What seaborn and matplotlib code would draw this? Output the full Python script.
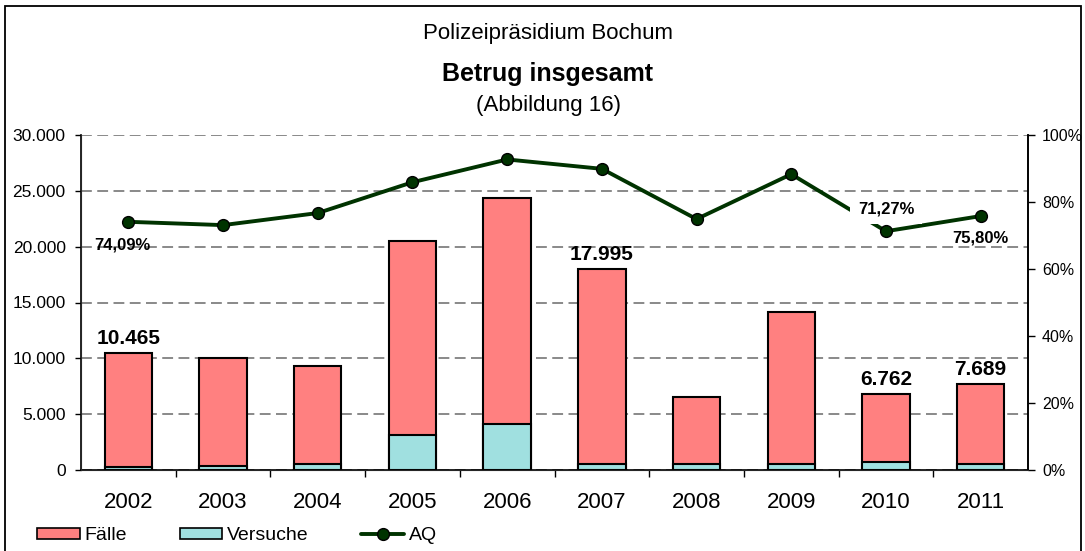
import matplotlib.pyplot as plt
import numpy as np
import seaborn as sns
from matplotlib.lines import Line2D
from matplotlib.patches import Patch, Rectangle
from matplotlib.ticker import FixedLocator, FuncFormatter

# Werte
years = ["2002", "2003", "2004", "2005", "2006", "2007", "2008", "2009", "2010", "2011"]
faelle = [10465, 10000, 9313, 20507, 24328, 17995, 6567, 14119, 6762, 7689]
versuche = [300, 358, 537, 3134, 4149, 507, 507, 507, 716, 507]
aq = [74.09, 73.1, 76.7, 85.9, 92.7, 89.9, 74.9, 88.3, 71.27, 75.80]

labelled_bars = [0, 5, 8, 9]
labelled_aq = {0: (-4, -17), 8: (0, 16), 9: (0, -16)}

RED = "#FF8080"
CYAN = "#A0E0E0"
GREEN = "#003300"

sns.set_style("ticks")
plt.rcParams["font.family"] = ["Liberation Sans", "DejaVu Sans"]
plt.rcParams["text.color"] = "black"
plt.rcParams["xtick.color"] = "black"
plt.rcParams["ytick.color"] = "black"

fig = plt.figure(figsize=(10.85, 5.51), dpi=100)
ax = fig.add_axes([81 / 1085, 81 / 551, (1028 - 81) / 1085, 335 / 551])

# --- Balken ---
sns.barplot(x=years, y=faelle, color=RED, saturation=1, width=0.5,
            edgecolor="black", linewidth=1.5, errorbar=None, ax=ax, zorder=3)
sns.barplot(x=years, y=versuche, color=CYAN, saturation=1, width=0.5,
            edgecolor="black", linewidth=1.5, errorbar=None, ax=ax, zorder=3)

ax.set_xlim(-0.5, 9.5)
ax.set_ylim(0, 30000)
ax.set_xlabel("")
ax.set_ylabel("")
ax.yaxis.set_major_locator(FixedLocator(np.arange(0, 30001, 5000)))
ax.yaxis.set_major_formatter(FuncFormatter(lambda v, p: f"{int(v):,}".replace(",", ".")))
ax.yaxis.grid(True, color="#808080", linestyle=(0, (6, 3)), linewidth=1.3, zorder=0)
ax.set_axisbelow(True)
ax.tick_params(axis="y", labelsize=12.5, length=4, width=1, direction="out", pad=7,
               colors="black")
ax.tick_params(axis="x", which="major", length=0, labelsize=16, pad=16, colors="black")
ax.xaxis.set_minor_locator(FixedLocator(np.arange(0.5, 9, 1)))
ax.tick_params(axis="x", which="minor", length=5, width=1, direction="out", colors="black")
for s in ["left", "bottom", "right"]:
    ax.spines[s].set_color("black")
    ax.spines[s].set_linewidth(1.2)
ax.spines["top"].set_visible(False)

for i in labelled_bars:
    ax.annotate(f"{faelle[i]:,}".replace(",", "."), (i, faelle[i]),
                xytext=(0, 4), textcoords="offset points", ha="center", va="bottom",
                fontsize=15, fontweight="bold", color="black")

# --- AQ Linie ---
ax2 = ax.twinx()
sns.lineplot(x=np.arange(len(years)), y=aq, color=GREEN, linewidth=2.8, marker="o",
             markersize=8.5, markerfacecolor=GREEN, markeredgecolor="black",
             markeredgewidth=1, ax=ax2, zorder=4)
ax2.set_ylim(0, 100)
ax2.set_xlim(-0.5, 9.5)
ax2.yaxis.set_major_locator(FixedLocator(np.arange(0, 101, 20)))
ax2.yaxis.set_major_formatter(FuncFormatter(lambda v, p: f"{int(v)}%"))
ax2.tick_params(axis="y", labelsize=11.5, length=5, width=1, direction="out", pad=5,
                colors="black")
ax2.spines["top"].set_visible(False)
ax2.spines["right"].set_color("black")
ax2.spines["right"].set_linewidth(1.2)
ax2.set_ylabel("")

for i, (dx, dy) in labelled_aq.items():
    txt = f"{aq[i]:.2f}%".replace(".", ",")
    bbox = dict(boxstyle="square,pad=0.45", fc="white", ec="none") if i == 8 else None
    ax2.annotate(txt, (i, aq[i]), xytext=(dx, dy), textcoords="offset points",
                 ha="center", va="center", fontsize=12, fontweight="bold",
                 color="black", bbox=bbox, zorder=6)

# --- Titel ---
fig.text(548 / 1085, 1 - 33 / 551, "Polizeipräsidium Bochum", ha="center", va="center", fontsize=16)
fig.text(548 / 1085, 1 - 74 / 551, "Betrug insgesamt", ha="center", va="center",
         fontsize=18, fontweight="bold")
fig.text(548 / 1085, 1 - 105 / 551, "(Abbildung 16)", ha="center", va="center", fontsize=16)

# --- Legende ---
handles = [
    Patch(facecolor=RED, edgecolor="black", linewidth=1.2, label="Fälle"),
    Patch(facecolor=CYAN, edgecolor="black", linewidth=1.2, label="Versuche"),
    Line2D([], [], color=GREEN, linewidth=2.8, marker="o", markersize=8.5,
           markerfacecolor=GREEN, markeredgecolor="black", label="AQ"),
]
fig.legend(handles=handles, loc="center left", bbox_to_anchor=(37 / 1085, 1 - 536 / 551),
           ncol=3, frameon=False, fontsize=14, handlelength=2.2, handleheight=0.55,
           handletextpad=0.25, columnspacing=2.7, borderpad=0, borderaxespad=0)

# Rahmen um die Grafik
fig.add_artist(Rectangle((5 / 1085, -0.05), 1076 / 1085, 545 / 551 + 0.05,
                         transform=fig.transFigure, fill=False, edgecolor="black",
                         linewidth=1.3, clip_on=False))

plt.savefig("out.png", dpi=100)
plt.close()
